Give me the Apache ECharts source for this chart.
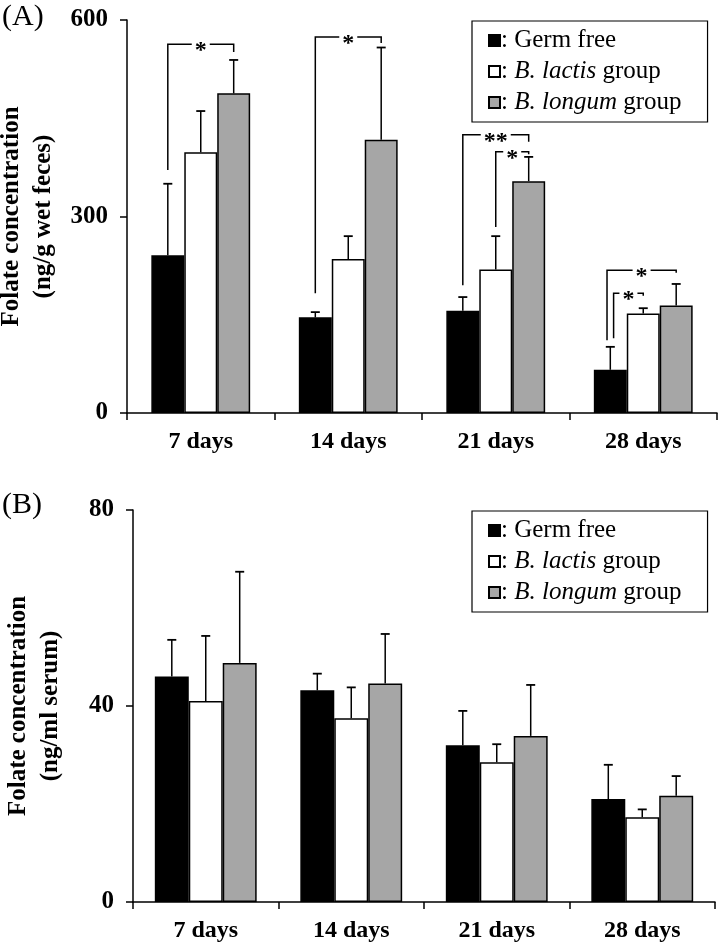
<!DOCTYPE html>
<html><head><meta charset="utf-8">
<script src="https://cdn.jsdelivr.net/npm/echarts@6/dist/echarts.min.js"></script>
<style>html,body{margin:0;padding:0;background:#fff}#c{width:720px;height:948px}</style>
</head><body><div id="c"></div>
<script>
const categories = ['7 days', '14 days', '21 days', '28 days'];
const groups = ['Germ free', 'B. lactis group', 'B. longum group'];

// Panel A: folate in feces (ng/g wet feces); *Err = top of the error bar
const fecesGermFree = [241, 146, 156, 66];
const fecesGermFreeErr = [350, 154, 177, 101];
const fecesLactis = [398, 235, 219, 152];
const fecesLactisErr = [461, 270, 270, 160];
const fecesLongum = [488, 417, 354, 164];
const fecesLongumErr = [539, 558, 391, 197];
const fecesTicks = [0, 300, 600];

// Panel B: folate in serum (ng/ml serum)
const serumGermFree = [46, 43.2, 32, 21];
const serumGermFreeErr = [53.5, 46.6, 39, 28];
const serumLactis = [41, 37.5, 28.5, 17.3];
const serumLactisErr = [54.3, 43.8, 32.2, 18.9];
const serumLongum = [48.8, 44.6, 33.9, 21.7];
const serumLongumErr = [67.4, 54.7, 44.3, 25.7];
const serumTicks = [0, 40, 80];

// Significance brackets (panel A): [category, fromBar, toBar, top, leftBottom, rightBottom, stars]
const fecesBrackets = [
  [0, 0, 2, 563, 371, 551, 1],
  [1, 0, 2, 574, 183, 565, 1],
  [2, 0, 2, 425, 195, 414, 2],
  [2, 1, 2, 399, 284, 395, 1],
  [3, -0.1, 2, 218, 111, 214, 1],
  [3, 0.1, 1, 183, 114, 179, 1]
];

const FONT = '"Liberation Serif", "Times New Roman", serif';
const GAP_A = 0.33, GAP_B = 0.30;
const fills = ['#000000', '#ffffff', '#a6a6a6'];

function barSeries(name, data, idx, axisIdx, gap) {
  return {
    type: 'bar', name: name, data: data,
    xAxisIndex: axisIdx, yAxisIndex: axisIdx,
    barGap: '0%', barCategoryGap: (gap * 100) + '%',
    itemStyle: { color: fills[idx], borderColor: '#000', borderWidth: 1.5 },
    emphasis: { disabled: true }, z: 2
  };
}

function errData(vals, errs, g) {
  return vals.map((v, i) => [i, v, errs[i], g]);
}

function errSeries(data, axisIdx, gap) {
  return {
    type: 'custom', xAxisIndex: axisIdx, yAxisIndex: axisIdx, z: 5, silent: true,
    encode: { x: 0, y: [1, 2] },
    data: data,
    renderItem: function (params, api) {
      const cat = api.value(0), v = api.value(1), e = api.value(2), g = api.value(3);
      const band = api.size([1, 0])[0];
      const bw = band * (1 - gap) / 3;
      const cx = api.coord([cat, 0])[0] + (g - 1) * bw;
      const y0 = api.coord([cat, v])[1];
      const y1 = api.coord([cat, e])[1];
      const cap = 4.5;
      return {
        type: 'group', children: [
          { type: 'line', shape: { x1: cx, y1: y0, x2: cx, y2: y1 }, style: { stroke: '#000', lineWidth: 1.5 } },
          { type: 'line', shape: { x1: cx - cap, y1: y1, x2: cx + cap, y2: y1 }, style: { stroke: '#000', lineWidth: 1.8 } }
        ]
      };
    }
  };
}

function bracketSeries(list, axisIdx, gap) {
  return {
    type: 'custom', xAxisIndex: axisIdx, yAxisIndex: axisIdx, z: 6, silent: true,
    encode: { x: 0, y: [3, 4, 5] },
    data: list.map(b => b.slice(0, 6)),
    renderItem: function (params, api) {
      const b = list[params.dataIndex];
      const band = api.size([1, 0])[0];
      const bw = band * (1 - gap) / 3;
      const c = api.coord([b[0], 0])[0];
      const x0 = c + (b[1] - 1) * bw, x1 = c + (b[2] - 1) * bw;
      const yt = api.coord([b[0], b[3]])[1];
      const yl = api.coord([b[0], b[4]])[1];
      const yr = api.coord([b[0], b[5]])[1];
      const mid = (x0 + x1) / 2;
      const half = b[6] * 6 + 3;
      const st = { stroke: '#000', lineWidth: 1.5, fill: null };
      return {
        type: 'group', children: [
          { type: 'polyline', shape: { points: [[x0, yl], [x0, yt], [mid - half, yt]] }, style: st },
          { type: 'polyline', shape: { points: [[mid + half, yt], [x1, yt], [x1, yr]] }, style: st },
          { type: 'text', x: mid, y: yt + 7, style: { text: '*'.repeat(b[6]), font: 'bold 24px ' + FONT, fill: '#000', align: 'center', verticalAlign: 'middle' } }
        ]
      };
    }
  };
}

function legendFor(top) {
  return {
    orient: 'vertical', left: 472, top: top,
    data: groups, icon: 'rect', itemWidth: 11, itemHeight: 11, itemGap: 6,
    padding: [7, 26, 7, 16], borderColor: '#000', borderWidth: 1.2,
    selectedMode: false,
    textStyle: {
      fontFamily: FONT, fontSize: 25, color: '#000', lineHeight: 25, padding: [0, 0, 0, -4],
      rich: { i: { fontFamily: FONT, fontSize: 25, fontStyle: 'italic', color: '#000', lineHeight: 25 } }
    },
    formatter: function (name) {
      if (name === 'Germ free') return ': Germ free';
      const parts = name.split(' ');
      return ': {i|' + parts[0] + ' ' + parts[1] + '} ' + parts[2];
    }
  };
}

function yAxisFor(idx, ticks, title, gapName) {
  return {
    gridIndex: idx, type: 'value', min: ticks[0], max: ticks[ticks.length - 1],
    interval: ticks[1] - ticks[0],
    name: title, nameLocation: 'middle', nameGap: gapName,
    nameTextStyle: { fontFamily: FONT, fontWeight: 'bold', fontSize: 25, lineHeight: 32, color: '#000' },
    axisLine: { show: true, lineStyle: { color: '#000', width: 1.5 } },
    axisTick: { show: true, length: 7, lineStyle: { color: '#000', width: 1.5 } },
    axisLabel: { fontFamily: FONT, fontWeight: 'bold', fontSize: 25, color: '#000', margin: 19 },
    splitLine: { show: false }
  };
}

function xAxisFor(idx) {
  return {
    gridIndex: idx, type: 'category', data: categories,
    axisLine: { show: true, lineStyle: { color: '#000', width: 1.5 } },
    axisTick: { show: true, length: 7, alignWithLabel: false, lineStyle: { color: '#000', width: 1.5 } },
    axisLabel: { fontFamily: FONT, fontWeight: 'bold', fontSize: 24, color: '#000', margin: 17, interval: 0 }
  };
}

const chart = echarts.init(document.getElementById('c'), null, { renderer: 'canvas' });
chart.setOption({
  animation: false,
  backgroundColor: '#fff',
  title: [
    { text: '(A)', left: 2, top: 2, padding: 0, textStyle: { fontFamily: FONT, fontWeight: 'normal', fontSize: 30, color: '#000' } },
    { text: '(B)', left: 2, top: 490, padding: 0, textStyle: { fontFamily: FONT, fontWeight: 'normal', fontSize: 30, color: '#000' } }
  ],
  legend: [legendFor(21), legendFor(511)],
  grid: [
    { left: 127, top: 20, width: 590, height: 393, outerBoundsMode: 'none', containLabel: false },
    { left: 133, top: 510, width: 582, height: 392, outerBoundsMode: 'none', containLabel: false }
  ],
  xAxis: [xAxisFor(0), xAxisFor(1)],
  yAxis: [
    yAxisFor(0, fecesTicks, 'Folate concentration\n(ng/g wet feces)', 66),
    yAxisFor(1, serumTicks, 'Folate concentration\n(ng/ml serum)', 66)
  ],
  series: [
    barSeries(groups[0], fecesGermFree, 0, 0, GAP_A),
    barSeries(groups[1], fecesLactis, 1, 0, GAP_A),
    barSeries(groups[2], fecesLongum, 2, 0, GAP_A),
    errSeries([].concat(errData(fecesGermFree, fecesGermFreeErr, 0), errData(fecesLactis, fecesLactisErr, 1), errData(fecesLongum, fecesLongumErr, 2)), 0, GAP_A),
    bracketSeries(fecesBrackets, 0, GAP_A),
    barSeries(groups[0], serumGermFree, 0, 1, GAP_B),
    barSeries(groups[1], serumLactis, 1, 1, GAP_B),
    barSeries(groups[2], serumLongum, 2, 1, GAP_B),
    errSeries([].concat(errData(serumGermFree, serumGermFreeErr, 0), errData(serumLactis, serumLactisErr, 1), errData(serumLongum, serumLongumErr, 2)), 1, GAP_B)
  ]
});
</script>
</body></html>
